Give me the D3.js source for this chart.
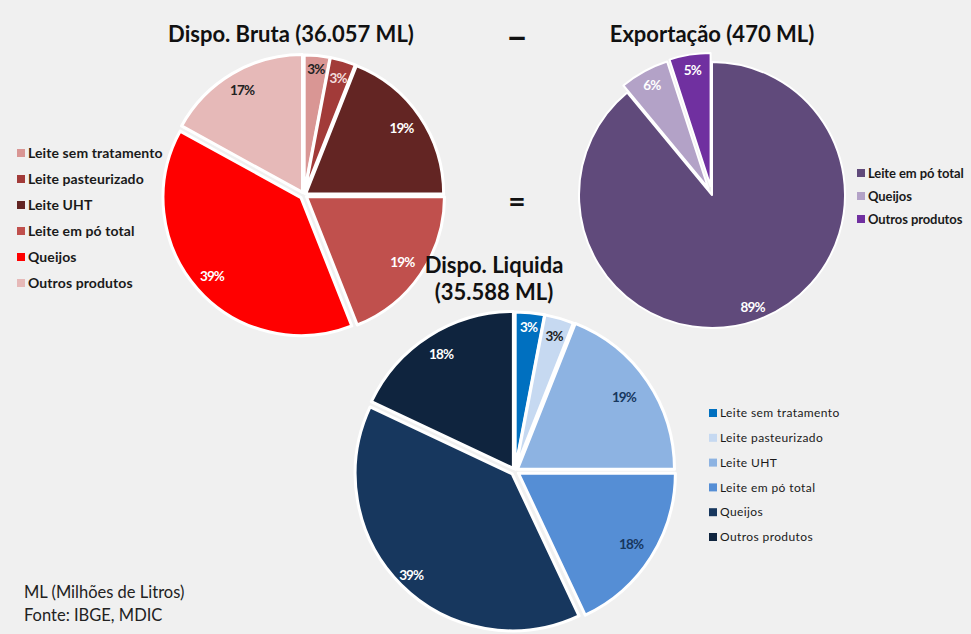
<!DOCTYPE html>
<html>
<head>
<meta charset="utf-8">
<script src="https://cdn.jsdelivr.net/npm/d3@7"></script>
<style>
  body { margin: 0; background: #f0f0f0; }
  svg { display: block; font-family: Lato, "Open Sans", sans-serif; }
</style>
</head>
<body>
<script>
// Dados (percentuais)
var brutaCats = ["Leite sem tratamento", "Leite pasteurizado", "Leite UHT", "Leite em pó total", "Queijos", "Outros produtos"];
var brutaValues = [3, 3, 19, 19, 39, 17];
var exportCats = ["Leite em pó total", "Queijos", "Outros produtos"];
var exportValues = [89, 6, 5];
var liquidaCats = ["Leite sem tratamento", "Leite pasteurizado", "Leite UHT", "Leite em pó total", "Queijos", "Outros produtos"];
var liquidaValues = [3, 3, 19, 18, 39, 18];

var svgWidth = 971;
var svgHeight = 634;

var svg = d3.select("body")
  .append("svg")
  .attr("width", svgWidth)
  .attr("height", svgHeight);

svg.append("rect").attr("width", svgWidth).attr("height", svgHeight).attr("fill", "#f0f0f0");

// desenha uma pizza com rótulos de percentual
function drawPie(cfg) {
  var data = cfg.cats.map(function(c, i) { return { cat: c, value: cfg.values[i], i: i }; });
  var pie = d3.pie().sort(null).value(function(d) { return d.value; });
  var arc = d3.arc().innerRadius(0).outerRadius(cfg.r);
  var g = svg.append("g").attr("transform", "translate(" + cfg.cx + "," + cfg.cy + ")");

  var slices = g.selectAll("g.slice")
    .data(pie(data))
    .enter()
    .append("g")
    .attr("class", "slice")
    .attr("transform", function(d, i) {
      var a = (d.startAngle + d.endAngle) / 2;
      var off = cfg.explode[i];
      return "translate(" + (Math.sin(a) * off) + "," + (-Math.cos(a) * off) + ")";
    });

  slices.append("path")
    .attr("d", arc)
    .attr("fill", function(d, i) { return cfg.colors[i]; })
    .attr("stroke", "#ffffff")
    .attr("stroke-width", cfg.stroke)
    .attr("stroke-linejoin", "round");

  slices.append("text")
    .attr("transform", function(d, i) {
      var a = (d.startAngle + d.endAngle) / 2;
      var lr = cfg.r * cfg.labelPos[i];
      return "translate(" + (Math.sin(a) * lr) + "," + (-Math.cos(a) * lr) + ")";
    })
    .attr("text-anchor", "middle")
    .attr("dy", "0.35em")
    .attr("font-size", 13.5)
    .attr("font-weight", 700)
    .attr("letter-spacing", -0.9)
    .attr("fill", function(d, i) { return cfg.labelColors[i]; })
    .text(function(d) { return d.data.value + "%"; });

  // legenda
  var leg = svg.append("g").attr("transform", "translate(" + cfg.legX + "," + cfg.legY + ")");
  var items = leg.selectAll("g")
    .data(data)
    .enter()
    .append("g")
    .attr("transform", function(d, i) { return "translate(0," + (i * cfg.legStep) + ")"; });
  items.append("rect")
    .attr("x", 0).attr("y", -4)
    .attr("width", 8).attr("height", 8)
    .attr("fill", function(d, i) { return cfg.colors[i]; });
  items.append("text")
    .attr("x", 11)
    .attr("dy", "0.35em")
    .attr("font-size", cfg.legSize)
    .attr("font-weight", cfg.legWeight)
    .attr("letter-spacing", cfg.legSpacing)
    .attr("fill", "#1a1a1a")
    .text(function(d) { return d.cat; });
}

drawPie({
  cats: brutaCats, values: brutaValues,
  cx: 304, cy: 195, r: 138, stroke: 3,
  explode: [2, 2, 2, 3, 4, 3],
  colors: ["#d99694", "#a23b39", "#632523", "#c0504d", "#ff0000", "#e6b9b8"],
  labelColors: ["#222", "#f2dcdb", "#fff", "#fff", "#fff", "#222"],
  labelPos: [0.9, 0.87, 0.84, 0.84, 0.86, 0.86],
  legX: 17, legY: 153, legStep: 26, legSize: 14, legWeight: 700, legSpacing: 0.1
});

drawPie({
  cats: exportCats, values: exportValues,
  cx: 712, cy: 195, r: 133, stroke: 2,
  explode: [0, 8, 9],
  colors: ["#604a7b", "#b3a2c7", "#7030a0"],
  labelColors: ["#fff", "#fff", "#fff"],
  labelPos: [0.9, 0.88, 0.88],
  legX: 857, legY: 173, legStep: 23, legSize: 13, legWeight: 700, legSpacing: -0.1
});

drawPie({
  cats: liquidaCats, values: liquidaValues,
  cx: 515, cy: 471, r: 157, stroke: 3,
  explode: [2, 2, 3, 4, 4, 3],
  colors: ["#0070c0", "#c6d9f1", "#8db3e2", "#558ed5", "#17375e", "#0f243e"],
  labelColors: ["#fff", "#222", "#17375e", "#17375e", "#fff", "#fff"],
  labelPos: [0.91, 0.88, 0.82, 0.85, 0.91, 0.86],
  legX: 709, legY: 413, legStep: 24.8, legSize: 12, legWeight: 400, legSpacing: 0.4
});

// títulos
function title(x, y, s) {
  svg.append("text").attr("x", x).attr("y", y).attr("text-anchor", "middle")
    .attr("font-size", 22).attr("font-weight", 700).attr("fill", "#111")
    .text(s);
}
title(291, 42, "Dispo. Bruta (36.057 ML)");
title(712, 42, "Exportação (470 ML)");
title(494, 273, "Dispo. Liquida");
title(494, 300, "(35.588 ML)");

// sinais de operação
svg.append("text").attr("x", 517).attr("y", 50).attr("text-anchor", "middle")
  .attr("font-size", 38).attr("font-weight", 700).attr("fill", "#111").text("–");
svg.append("text").attr("x", 517).attr("y", 212).attr("text-anchor", "middle")
  .attr("font-size", 30).attr("font-weight", 700).attr("fill", "#111").text("=");

// notas
svg.append("text").attr("x", 24).attr("y", 598)
  .attr("font-size", 16.5).attr("fill", "#222").text("ML (Milhões de Litros)");
svg.append("text").attr("x", 24).attr("y", 621)
  .attr("font-size", 16.5).attr("fill", "#222").text("Fonte: IBGE, MDIC");
</script>
</body>
</html>
